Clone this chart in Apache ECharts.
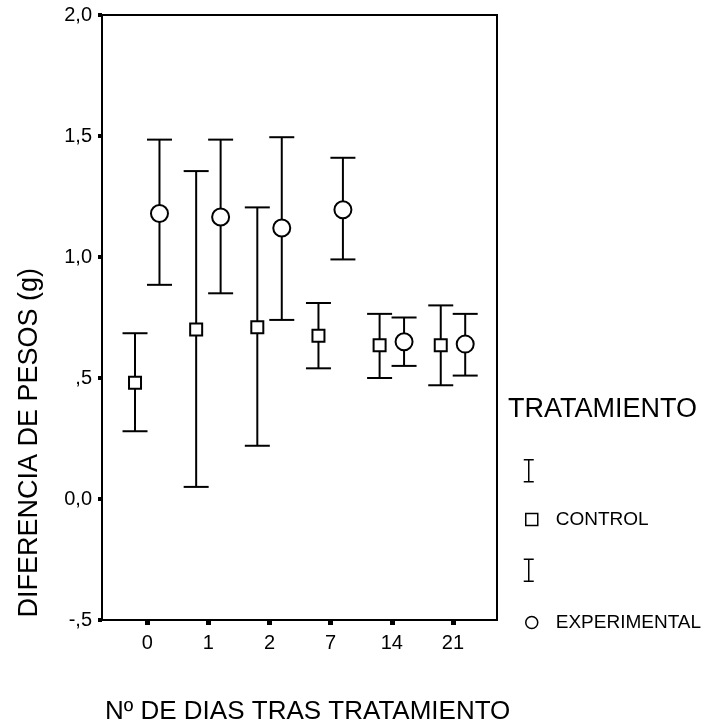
<!DOCTYPE html>
<html>
<head>
<meta charset="utf-8">
<script src="https://cdn.jsdelivr.net/npm/echarts@6/dist/echarts.min.js"></script>
<style>
  html, body { margin: 0; padding: 0; background: #ffffff; }
  #chart { width: 707px; height: 726px; }
</style>
</head>
<body>
<div id="chart"></div>
<script>
// Days after treatment (x categories)
const days = ['0', '1', '2', '7', '14', '21'];

// CONTROL group: mean and 95% CI bounds of weight difference (g)
const controlMean = [0.48, 0.70, 0.71, 0.675, 0.635, 0.635];
const controlLow  = [0.28, 0.05, 0.22, 0.54, 0.50, 0.47];
const controlHigh = [0.685, 1.355, 1.205, 0.81, 0.765, 0.80];

// EXPERIMENTAL group: mean and 95% CI bounds
const expMean = [1.18, 1.165, 1.12, 1.195, 0.65, 0.64];
const expLow  = [0.885, 0.85, 0.74, 0.99, 0.55, 0.51];
const expHigh = [1.485, 1.485, 1.495, 1.41, 0.75, 0.765];

// Y axis ticks
const yTicks = [-0.5, 0, 0.5, 1, 1.5, 2];

const FONT = "'Liberation Sans', Arial, sans-serif";
const GROUP_SHIFT = 0.2;   // horizontal offset of each group inside a day slot
const dayPositions = days.map((d, i) => i);

// SPSS-style number format: comma decimal, no leading zero for |v| < 1
function spssLabel(v) {
  if (v === 0) return '0,0';
  const a = Math.abs(v);
  let s = a.toFixed(1).replace('.', ',');
  if (a < 1) s = s.replace(/^0/, '');
  return (v < 0 ? '-' : '') + s;
}

function errorBars(name, low, high, shift) {
  return {
    type: 'custom',
    name: name,
    data: days.map((d, i) => [i + shift, low[i], high[i]]),
    encode: { x: 0, y: [1, 2] },
    z: 2,
    renderItem: function (params, api) {
      const x = api.value(0);
      const lo = api.coord([x, api.value(1)]);
      const hi = api.coord([x, api.value(2)]);
      const half = 12.5;
      const style = { stroke: '#000', lineWidth: 2, fill: null };
      return {
        type: 'group',
        children: [
          { type: 'line', shape: { x1: lo[0], y1: lo[1], x2: hi[0], y2: hi[1] }, style: style },
          { type: 'line', shape: { x1: hi[0] - half, y1: hi[1], x2: hi[0] + half, y2: hi[1] }, style: style },
          { type: 'line', shape: { x1: lo[0] - half, y1: lo[1], x2: lo[0] + half, y2: lo[1] }, style: style }
        ]
      };
    }
  };
}

function means(name, values, shift, symbol, size) {
  return {
    type: 'scatter',
    name: name,
    data: days.map((d, i) => [i + shift, values[i]]),
    symbol: symbol,
    symbolSize: size,
    itemStyle: { color: '#ffffff', borderColor: '#000000', borderWidth: 2, opacity: 1 },
    z: 3
  };
}

const ciIcon = 'path://M0,0H10M5,0V22M0,22H10';

const chart = echarts.init(document.getElementById('chart'), null, { renderer: 'canvas' });

chart.setOption({
  animation: false,
  backgroundColor: '#ffffff',
  textStyle: { fontFamily: FONT, color: '#000' },
  grid: {
    left: 102, top: 15, width: 395, height: 605,
    show: true, borderColor: '#000', borderWidth: 2, backgroundColor: 'transparent'
  },
  title: {
    text: 'TRATAMIENTO',
    left: 508, top: 396, padding: 0,
    textStyle: { fontFamily: FONT, fontSize: 27, fontWeight: 'normal', color: '#000' }
  },
  legend: [
    {
      orient: 'vertical',
      left: 523, top: 459, padding: 0,
      itemWidth: 10, itemHeight: 22, itemGap: 76,
      selectedMode: false,
      formatter: () => '',
      itemStyle: { color: 'transparent', borderColor: '#000', borderWidth: 1.5 },
      data: [
        { name: 'IC CONTROL', icon: ciIcon },
        { name: 'IC EXPERIMENTAL', icon: ciIcon }
      ]
    },
    {
      orient: 'vertical',
      left: 525, top: 510, padding: 0,
      itemWidth: 12, itemHeight: 12, itemGap: 84,
      selectedMode: false,
      textStyle: { fontFamily: FONT, fontSize: 19, color: '#000', padding: [0, 0, 0, 13] },
      itemStyle: { color: '#fff', borderColor: '#000', borderWidth: 1.5 },
      data: [
        { name: 'CONTROL', icon: 'rect' },
        { name: 'EXPERIMENTAL', icon: 'circle' }
      ]
    }
  ],
  xAxis: {
    type: 'value',
    min: -0.74, max: 5.72,
    splitLine: { show: false },
    axisLine: { show: true, onZero: false, lineStyle: { color: '#000', width: 2 } },
    axisTick: {
      show: true, inside: false, length: 5,
      customValues: dayPositions,
      lineStyle: { color: '#000', width: 5 }
    },
    axisLabel: {
      show: true, margin: 13,
      customValues: dayPositions,
      fontFamily: FONT, fontSize: 20, color: '#000',
      formatter: v => days[Math.round(v)]
    }
  },
  yAxis: {
    type: 'value',
    min: yTicks[0], max: yTicks[yTicks.length - 1], interval: 0.5,
    splitLine: { show: false },
    axisLine: { show: true, onZero: false, lineStyle: { color: '#000', width: 2 } },
    axisTick: { show: true, length: 4, lineStyle: { color: '#000', width: 4 } },
    axisLabel: {
      margin: 10, fontFamily: FONT, fontSize: 20, color: '#000',
      formatter: spssLabel
    }
  },
  graphic: [
    {
      type: 'text', left: 16, top: 268, rotation: Math.PI / 2,
      style: { text: 'DIFERENCIA DE PESOS (g)', font: "27px " + FONT, fill: '#000' }
    },
    {
      type: 'text', left: 105, top: 699,
      style: { text: 'Nº DE DIAS TRAS TRATAMIENTO', font: "26px " + FONT, fill: '#000' }
    }
  ],
  series: [
    errorBars('IC CONTROL', controlLow, controlHigh, -GROUP_SHIFT),
    errorBars('IC EXPERIMENTAL', expLow, expHigh, GROUP_SHIFT),
    means('CONTROL', controlMean, -GROUP_SHIFT, 'rect', 12),
    means('EXPERIMENTAL', expMean, GROUP_SHIFT, 'circle', 17)
  ]
});
</script>
</body>
</html>
